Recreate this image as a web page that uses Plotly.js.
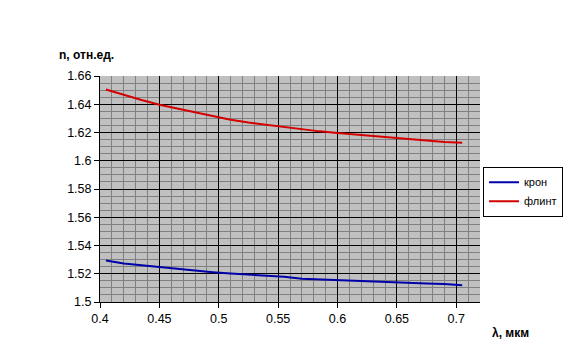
<!DOCTYPE html>
<html>
<head>
<meta charset="utf-8">
<script src="https://cdn.plot.ly/plotly-3.0.1.min.js"></script>
<style>html,body{margin:0;padding:0;background:#fff;}#chart{width:568px;height:364px;}</style>
</head>
<body>
<div id="chart"></div>
<script>
const lambda = [0.405, 0.42, 0.435, 0.45, 0.465, 0.48, 0.495, 0.51, 0.525, 0.54, 0.555, 0.57, 0.585, 0.6, 0.615, 0.63, 0.645, 0.66, 0.675, 0.69, 0.705];
const kron = [1.5293, 1.5272, 1.5260, 1.5247, 1.5235, 1.5222, 1.5211, 1.5201, 1.5193, 1.5187, 1.5179, 1.5165, 1.5160, 1.5155, 1.5147, 1.5141, 1.5137, 1.5134, 1.5131, 1.5127, 1.5118];
const flint = [1.6505, 1.6465, 1.6430, 1.6397, 1.6370, 1.6340, 1.6312, 1.6290, 1.6270, 1.6255, 1.6238, 1.6220, 1.6208, 1.6196, 1.6185, 1.6175, 1.6167, 1.6155, 1.6140, 1.6133, 1.6128];
const seriesNames = ['крон', 'флинт'];
const yTitle = 'n, отн.ед.';
const xTitle = 'λ, мкм';

const font = 'Arial, "Liberation Sans", sans-serif';
const traces = [
  {x: lambda, y: kron, name: seriesNames[0], mode: 'lines', line: {color: '#0000a8', width: 2}},
  {x: lambda, y: flint, name: seriesNames[1], mode: 'lines', line: {color: '#d40000', width: 2}}
];
const layout = {
  width: 568, height: 364,
  margin: {l: 100, r: 88, t: 76, b: 62, autoexpand: false},
  paper_bgcolor: '#ffffff',
  plot_bgcolor: '#c0c0c0',
  font: {family: font, color: '#000', size: 12},
  showlegend: true,
  legend: {x: 1.008, y: 0.599, xanchor: 'left', yanchor: 'top', bgcolor: '#fff', bordercolor: '#000', borderwidth: 1,
           font: {family: font, size: 11, color: '#000'}, itemwidth: 30, tracegroupgap: 0},
  xaxis: {range: [0.4, 0.72], tick0: 0.4, dtick: 0.05, showgrid: true, gridcolor: '#000', gridwidth: 1,
          minor: {dtick: 0.01, showgrid: true, gridcolor: '#808080', gridwidth: 1},
          showline: true, linecolor: '#000', linewidth: 1, ticks: 'outside', ticklen: 5, tickcolor: '#000',
          zeroline: false, tickfont: {size: 12.5}},
  yaxis: {range: [1.5, 1.66], tick0: 1.5, dtick: 0.02, showgrid: true, gridcolor: '#000', gridwidth: 1,
          minor: {dtick: 0.005, showgrid: true, gridcolor: '#808080', gridwidth: 1},
          showline: true, linecolor: '#000', linewidth: 1, ticks: 'outside', ticklen: 5, tickcolor: '#000',
          zeroline: false, tickfont: {size: 12.5}},
  annotations: [
    {text: '<b>' + yTitle + '</b>', xref: 'paper', yref: 'paper', x: -0.113, y: 1.093, xanchor: 'left', yanchor: 'middle',
     showarrow: false, font: {size: 12}},
    {text: '<b>' + xTitle + '</b>', xref: 'paper', yref: 'paper', x: 1.026, y: -0.137, xanchor: 'left', yanchor: 'middle',
     showarrow: false, font: {size: 12}}
  ]
};
Plotly.newPlot('chart', traces, layout, {displayModeBar: false, staticPlot: true});
</script>
</body>
</html>
